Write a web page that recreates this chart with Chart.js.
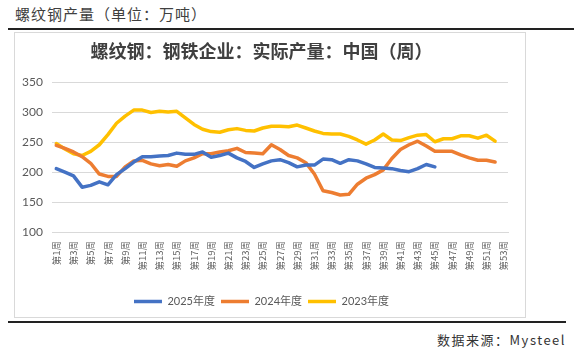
<!DOCTYPE html>
<html>
<head>
<meta charset="utf-8">
<script src="https://cdn.jsdelivr.net/npm/chart.js@4.4.0/dist/chart.umd.min.js"></script>
<style>
  html, body { margin: 0; padding: 0; background: #fff; }
  body { width: 574px; height: 357px; position: relative; overflow: hidden; font-family: "Noto Sans CJK SC", sans-serif; }
  #head { position: absolute; left: 15px; top: 4px; font-size: 15px; line-height: 20px; color: #404040; letter-spacing: 1px; }
  #rule1 { position: absolute; left: 8px; top: 28px; width: 566px; height: 2px; background: #222; }
  #box { position: absolute; left: 14px; top: 32px; width: 510px; height: 284px; border: 1px solid #d9d9d9; }
  #rule2 { position: absolute; left: 8px; top: 321px; width: 558px; height: 2px; background: #222; }
  #src { position: absolute; right: 8px; top: 331px; font-size: 13px; line-height: 18px; color: #333; letter-spacing: 1.5px; }
  canvas { position: absolute; left: 0; top: 0; }
</style>
</head>
<body>
<div id="head">螺纹钢产量（单位：万吨）</div>
<div id="rule1"></div>
<div id="box"><canvas id="c" width="510" height="284"></canvas></div>
<div id="rule2"></div>
<div id="src">数据来源：Mysteel</div>
<script>
const weeks = Array.from({length: 53}, (_, i) => '第' + (i + 1) + '周');
const seriesNames = ['2025年度', '2024年度', '2023年度'];
const y2025 = [206, 200, 194, 175, 178, 184, 179, 196, 206, 217, 226, 226, 227, 228, 232, 230, 230, 234, 225, 228, 232, 224, 218, 208, 214, 219, 221, 216, 209, 212, 212, 222, 221, 215, 221, 219, 214, 208, 207, 206, 203, 201, 206, 213, 209];
const y2024 = [245, 240, 234, 226, 215, 197, 193, 193, 209, 219, 220, 214, 211, 213, 210, 219, 224, 231, 231, 234, 236, 240, 233, 232, 231, 246, 238, 228, 224, 216, 197, 169, 166, 162, 163, 180, 190, 196, 204, 223, 238, 246, 252, 244, 235, 235, 235, 229, 224, 220, 220, 217];
const y2023 = [248, 239, 231, 228, 235, 246, 263, 282, 294, 304, 304, 300, 302, 301, 302, 291, 280, 272, 268, 267, 271, 273, 270, 269, 274, 277, 277, 276, 279, 274, 269, 265, 264, 264, 260, 254, 247, 254, 264, 254, 253, 258, 262, 263, 251, 256, 256, 261, 261, 257, 262, 252];
const yTicks = [100, 150, 200, 250, 300, 350];
const colors = ['#4472C4', '#ED7D31', '#FFC000'];

const mk = (label, data, color) => ({
  label, data, borderColor: color, backgroundColor: color, borderWidth: 3.5,
  pointRadius: 0, tension: 0, borderJoinStyle: 'round', borderCapStyle: 'round', fill: false
});

new Chart(document.getElementById('c'), {
  type: 'line',
  data: {
    labels: weeks,
    datasets: [mk(seriesNames[0], y2025, colors[0]), mk(seriesNames[1], y2024, colors[1]), mk(seriesNames[2], y2023, colors[2])]
  },
  options: {
    responsive: false, animation: false, devicePixelRatio: 1,
    layout: { padding: { left: 0, right: 17, top: 0, bottom: 0 } },
    plugins: {
      title: {
        display: true, text: '螺纹钢：钢铁企业：实际产量：中国（周）',
        color: '#404040', font: { family: '"Noto Sans CJK SC"', size: 18, weight: 'bold' },
        padding: { top: 7, bottom: 21 }
      },
      legend: {
        position: 'bottom',
        labels: {
          usePointStyle: true, pointStyle: 'line', pointStyleWidth: 28, boxHeight: 11,
          color: '#595959', font: { family: 'Lato, "Noto Sans CJK SC"', size: 11 }, padding: 6
        }
      },
      tooltip: { enabled: false }
    },
    scales: {
      x: {
        offset: true,
        grid: { display: false, drawTicks: false },
        border: { display: true, color: '#d9d9d9' },
        afterFit: s => { s.height = 58; },
        ticks: {
          autoSkip: false, maxRotation: 90, minRotation: 90, padding: 9,
          color: '#666', font: { family: '"Noto Sans CJK SC", Lato', size: 9.5 },
          callback: (v, i) => (i % 2 === 0 ? weeks[i] : '')
        }
      },
      y: {
        min: yTicks[0], max: yTicks[yTicks.length - 1],
        grid: { color: '#d9d9d9', drawTicks: false },
        border: { display: false },
        afterFit: s => { s.width = 37; },
        afterBuildTicks: s => { s.ticks = yTicks.map(v => ({ value: v })); },
        ticks: { padding: 9, color: '#595959', font: { family: 'Lato', size: 12 } }
      }
    }
  }
});
</script>
</body>
</html>
